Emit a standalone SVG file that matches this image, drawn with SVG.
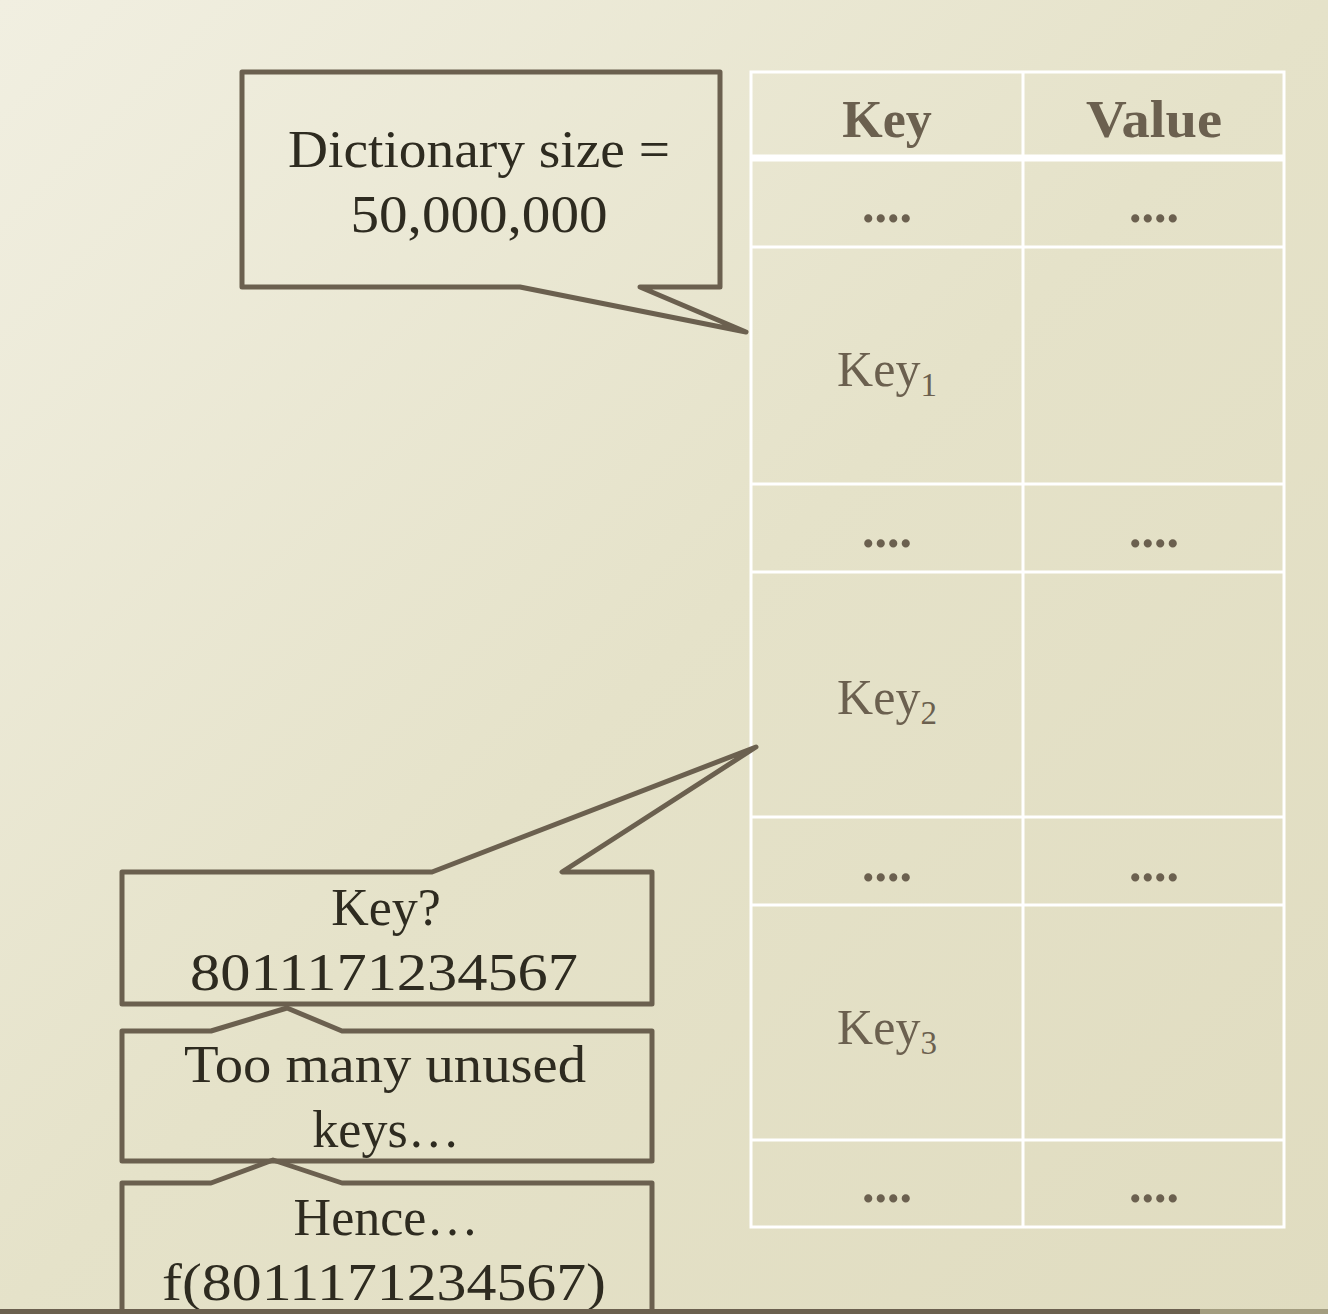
<svg xmlns="http://www.w3.org/2000/svg" width="1328" height="1314" viewBox="0 0 1328 1314">
<defs>
<linearGradient id="bg" x1="0" y1="0" x2="1" y2="1">
<stop offset="0" stop-color="#f1efe1"/>
<stop offset="0.5" stop-color="#e5e2c9"/>
<stop offset="1" stop-color="#e0dcc0"/>
</linearGradient>
<style>
.co{fill:none;stroke:#6b604f;stroke-width:5;stroke-linejoin:round}
.ct{font-family:"Liberation Serif","DejaVu Serif",serif;font-size:52px;fill:#2e2b20;text-anchor:middle}
.th{font-family:"Liberation Serif","DejaVu Serif",serif;font-size:52px;font-weight:bold;fill:#6b604f;text-anchor:middle}
.tc{font-family:"Liberation Serif","DejaVu Serif",serif;font-size:50px;fill:#6b604f;text-anchor:middle}
.dt{font-family:"Liberation Serif","DejaVu Serif",serif;font-size:50px;font-weight:bold;fill:#6b604f;text-anchor:middle}
.gl{stroke:#ffffff;stroke-width:3;fill:none}
</style>
</defs>
<rect width="1328" height="1314" fill="url(#bg)"/>
<g id="table">
<rect x="751" y="72" width="533" height="1155" class="gl"/>
<line x1="1023" y1="72" x2="1023" y2="1227" class="gl"/>
<line x1="751" y1="158" x2="1284" y2="158" stroke="#fff" stroke-width="7"/>
<line x1="751" y1="247" x2="1284" y2="247" class="gl"/>
<line x1="751" y1="484" x2="1284" y2="484" class="gl"/>
<line x1="751" y1="572" x2="1284" y2="572" class="gl"/>
<line x1="751" y1="817" x2="1284" y2="817" class="gl"/>
<line x1="751" y1="905" x2="1284" y2="905" class="gl"/>
<line x1="751" y1="1140" x2="1284" y2="1140" class="gl"/>
<text x="887" y="137" class="th">Key</text>
<text x="1154" y="137" class="th" textLength="136" lengthAdjust="spacingAndGlyphs">Value</text>
<text x="887" y="222" class="dt">....</text>
<text x="1154" y="222" class="dt">....</text>
<text x="887" y="547" class="dt">....</text>
<text x="1154" y="547" class="dt">....</text>
<text x="887" y="881" class="dt">....</text>
<text x="1154" y="881" class="dt">....</text>
<text x="887" y="1202" class="dt">....</text>
<text x="1154" y="1202" class="dt">....</text>
<text x="887" y="386" class="tc">Key<tspan font-size="33" dy="10">1</tspan></text>
<text x="887" y="714" class="tc">Key<tspan font-size="33" dy="10">2</tspan></text>
<text x="887" y="1044" class="tc">Key<tspan font-size="33" dy="10">3</tspan></text>
</g>
<g id="callout-size">
<path class="co" d="M242,72 H720 V287 H640 L746,332 L520,287 H242 Z"/>
<text x="479" y="167" class="ct" textLength="382" lengthAdjust="spacingAndGlyphs">Dictionary size =</text>
<text x="479" y="232" class="ct" textLength="257" lengthAdjust="spacingAndGlyphs">50,000,000</text>
</g>
<g id="callout-key">
<path class="co" d="M122,872 H432 L756,747 L562,872 H652 V1004 H122 Z"/>
<text x="386" y="925" class="ct">Key?</text>
<text x="384" y="990" class="ct" textLength="388" lengthAdjust="spacingAndGlyphs">8011171234567</text>
</g>
<g id="callout-unused">
<path class="co" d="M122,1031 H211 L287,1008 L342,1031 H652 V1161 H122 Z"/>
<text x="385" y="1082" class="ct" textLength="402" lengthAdjust="spacingAndGlyphs">Too many unused</text>
<text x="386" y="1147" class="ct">keys…</text>
</g>
<g id="callout-hence">
<path class="co" d="M122,1183 H211 L273,1160 L342,1183 H652 V1340 H122 Z"/>
<text x="386" y="1235" class="ct">Hence…</text>
<text x="384" y="1300" class="ct" textLength="444" lengthAdjust="spacingAndGlyphs">f(8011171234567)</text>
</g>
<rect x="0" y="1309" width="1200" height="5" fill="#6b604f"/>
<rect x="1200" y="1309" width="128" height="5" fill="#a39d80"/>
</svg>
